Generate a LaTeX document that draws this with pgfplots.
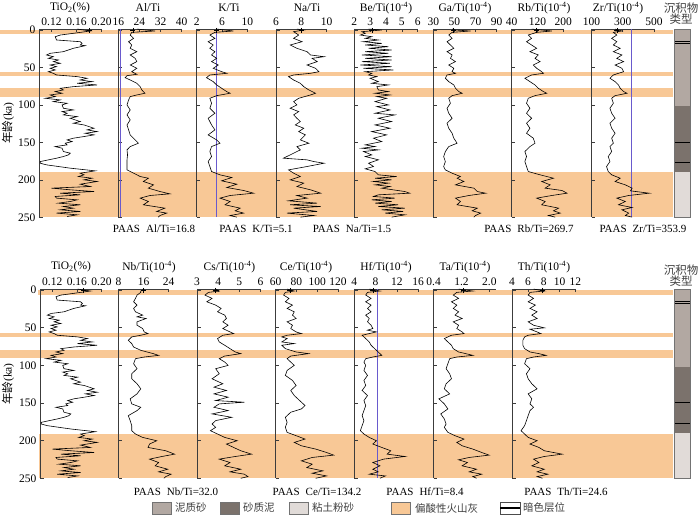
\documentclass[border=0pt]{standalone}
\usepackage{fontspec}
\setmainfont{Liberation Serif}
\newfontfamily\cjk{Noto Sans CJK SC}
\usepackage{pgfplots}
\pgfplotsset{compat=1.18}

\definecolor{band}{RGB}{248,200,150}
\definecolor{paas}{RGB}{105,90,205}
\definecolor{sedA}{RGB}{178,168,162}
\definecolor{sedB}{RGB}{123,114,108}
\definecolor{sedC}{RGB}{225,219,216}
\definecolor{axgray}{RGB}{60,60,60}

\pgfplotsset{
  panel/.style={
    scale only axis, anchor=north west,
    y dir=reverse, ymin=-1.5, ymax=250,
    axis x line*=top, axis y line*=left,
    axis line style={-, axgray, line width=0.7pt},
    tick style={axgray, line width=0.6pt},
    tick align=inside, major tick length=3.5pt,
    ytick={0,50,100,150,200,250}, yticklabels={},
    tick label style={font=\fontsize{11.5}{12}\selectfont},
    clip=false,
  },
  toprow/.style={panel, height=188.4pt},
  botrow/.style={panel, height=189.5pt},
  bandax/.style={scale only axis, anchor=north west, hide axis, clip=false,
    width=673pt, xmin=0, xmax=673, y dir=reverse, ymin=-1.5, ymax=250},
  curve/.style={black, line width=0.6pt},
  plus/.style={only marks, mark=+, mark size=2.5pt, black},
  paasline/.style={paas, line width=1pt},
}

\begin{document}
\begin{tikzpicture}[font=\fontsize{11}{13}\selectfont]
\useasboundingbox (0pt,0pt) rectangle (700pt,-521pt);

% ---------------- bands, top row
\begin{axis}[bandax, at={(0pt,-28.9pt)}, height=188.4pt]
\addplot[fill=band, draw=none] coordinates {(0,-0.5) (673,-0.5) (673,5.5) (0,5.5)};
\addplot[fill=band, draw=none] coordinates {(0,56) (673,56) (673,61) (0,61)};
\addplot[fill=band, draw=none] coordinates {(0,78) (673,78) (673,89) (0,89)};
\addplot[fill=band, draw=none] coordinates {(39,190) (673,190) (673,250) (39,250)};
\end{axis}
% ---------------- bands, bottom row
\begin{axis}[bandax, at={(0pt,-288.9pt)}, height=189.5pt]
\addplot[fill=band, draw=none] coordinates {(38,0.5) (673,0.5) (673,6.5) (38,6.5)};
\addplot[fill=band, draw=none] coordinates {(0,57) (673,57) (673,62) (0,62)};
\addplot[fill=band, draw=none] coordinates {(0,79) (673,79) (673,90) (0,90)};
\addplot[fill=band, draw=none] coordinates {(39,191) (673,191) (673,250) (39,250)};
\end{axis}

% ================= TOP ROW =================
% TiO2
\begin{axis}[toprow, at={(39pt,-28.9pt)}, width=62.5pt, xmin=0.10, xmax=0.20,
  xtick={0.12,0.16,0.20}, xticklabels={0.12,0.16,0.20},
  yticklabels={0,50,100,150,200,250}]
\addplot[curve] coordinates {(0.161,-1.3) (0.182,1.3) (0.155,4.4) (0.134,6.7) (0.126,8.9) (0.128,13.3) (0.166,15.6) (0.169,17.8) (0.166,20) (0.174,20.9) (0.155,24.4) (0.139,28.9) (0.118,31.1) (0.112,33.3) (0.123,35.6) (0.115,37.8) (0.131,40) (0.123,42.2) (0.134,44.4) (0.118,46.7) (0.128,48.9) (0.118,51.1) (0.126,53.3) (0.115,55.6) (0.123,57.8) (0.128,60) (0.161,62.2) (0.177,64.4) (0.166,66.7) (0.185,68.9) (0.161,71.1) (0.193,73.3) (0.155,75.6) (0.134,77.8) (0.139,80) (0.126,82.2) (0.137,84.4) (0.118,86.7) (0.126,88.9) (0.110,91.1) (0.134,93.3) (0.123,95.6) (0.145,97.8) (0.137,100) (0.139,104.4) (0.155,106.7) (0.137,108.9) (0.145,111.1) (0.139,113.3) (0.161,115.6) (0.150,117.8) (0.166,122.2) (0.155,124.4) (0.172,126.7) (0.188,131.1) (0.177,133.3) (0.193,135.6) (0.174,137.8) (0.188,140) (0.172,142.2) (0.155,144.4) (0.145,146.7) (0.153,148.9) (0.142,151.1) (0.145,153.3) (0.126,155.6) (0.137,157.8) (0.139,162.2) (0.150,164.4) (0.147,166.7) (0.139,168.9) (0.128,171.1) (0.102,175.6) (0.102,177.8) (0.112,180) (0.150,184.4) (0.190,188) (0.166,191.1) (0.172,193.3) (0.163,195.6) (0.185,197.8) (0.172,200) (0.193,202.2) (0.166,205.8) (0.182,208.9) (0.120,211.1) (0.150,213.3) (0.188,215.6) (0.134,217.8) (0.166,220) (0.126,222.2) (0.128,224.4) (0.161,226.7) (0.150,228.9) (0.131,231.1) (0.166,233.3) (0.139,235.6) (0.155,237.8) (0.134,240) (0.166,242.2) (0.128,244.4) (0.161,246.7) (0.145,248.9)};
\addplot[plus] coordinates {(0.181,0.5)};
\end{axis}

% Al/Ti
\begin{axis}[toprow, at={(118.3pt,-28.9pt)}, width=63.4pt, xmin=16, xmax=40,
  xtick={16,24,32,40}, xticklabels={16,24,32,40}]
\addplot[paasline] coordinates {(16.8,-1.5) (16.8,250)};
\addplot[curve] coordinates {(23,-1.3) (29.9,1.3) (21.1,3.1) (20.5,6.7) (21.8,11.1) (19.9,15.6) (21.1,20) (20.5,24.4) (23,28.9) (20.5,33.3) (22.4,37.8) (23,42.2) (20.5,46.7) (23,51.1) (21.1,55.6) (23,59.1) (19.3,60.9) (18.6,63.6) (20.5,66.7) (23,71.1) (24.3,75.6) (24.9,80) (26.1,84.4) (23,86.7) (20.5,88.9) (19.9,93.3) (19.3,100) (20.5,106.7) (19.3,113.3) (20.5,120) (19.3,126.7) (19.9,133.3) (20.5,140) (22.4,146.7) (23.6,151.1) (20.5,155.6) (19.3,160) (19.5,166.7) (19.3,173.3) (19.3,180) (19.3,186.7) (21.8,191.1) (24.3,195.6) (27.4,197.8) (25.5,202.2) (29.3,206.7) (27.4,211.1) (31.8,215.6) (35.5,218.7) (28,220.9) (24.3,224.4) (27.4,228.9) (25.5,233.3) (33.6,237.8) (30.5,242.2) (34.3,244.4) (31.8,247.6) (31.1,249.8)};
\addplot[plus] coordinates {(21.5,0.5)};
\end{axis}

% K/Ti
\begin{axis}[toprow, at={(196.7pt,-28.9pt)}, width=50.6pt, xmin=2, xmax=10,
  xtick={2,6,10}, xticklabels={2,6,10}]
\addplot[paasline] coordinates {(5.1,-1.5) (5.1,250)};
\addplot[curve] coordinates {(5.15,-1.3) (7.81,1.3) (4.88,3.1) (4.08,6.7) (4.88,11.1) (3.81,15.6) (4.61,20) (4.08,24.4) (4.88,28.9) (4.35,33.3) (5.15,37.8) (4.35,42.2) (5.41,46.7) (4.61,51.1) (5.95,55.6) (6.75,57.8) (4.08,60) (3.55,63.6) (4.61,68.9) (5.15,73.3) (5.95,77.8) (6.75,82.2) (7.28,84.4) (5.15,87.6) (4.08,91.1) (4.35,97.8) (4.08,104.4) (4.88,111.1) (3.81,117.8) (4.35,126.7) (4.88,133.3) (3.81,140) (5.15,146.7) (5.68,151.1) (4.35,155.6) (4.08,162.2) (4.35,168.9) (3.81,175.6) (4.08,182.2) (4.35,188.9) (5.68,193.3) (7.55,196.9) (5.95,201.3) (8.35,205.8) (6.75,210.2) (9.41,214.2) (11.0,217.8) (7.28,220.9) (5.68,224.4) (7.28,228.9) (6.48,233.3) (8.88,237.8) (8.08,241.3) (9.41,244.4) (7.28,247.6) (8.35,249.8)};
\addplot[plus] coordinates {(5.1,0.5)};
\end{axis}

% Na/Ti
\begin{axis}[toprow, at={(276pt,-28.9pt)}, width=50.7pt, xmin=6, xmax=10,
  xtick={6,8,10}, xticklabels={6,8,10}]
\addplot[curve] coordinates {(7.65,-1.3) (8.19,0) (7.39,2.2) (7.79,6.7) (7.39,11.1) (8.05,15.6) (7.12,20) (7.65,24.4) (8.45,28.9) (8.72,33.3) (9.79,35.6) (8.85,37.8) (9.25,42.2) (8.45,46.7) (9.12,51.1) (9.39,55.6) (8.72,57.8) (7.39,60) (6.99,62.2) (7.39,66.7) (7.92,71.1) (8.19,75.6) (8.59,80) (9.12,84.4) (8.72,86.7) (7.79,91.1) (7.39,95.6) (7.65,100) (7.12,104.4) (7.79,108.9) (7.39,113.3) (7.65,117.8) (7.92,122.2) (7.52,126.7) (8.19,131.1) (7.79,135.6) (8.32,140) (7.92,146.7) (8.59,151.1) (7.65,155.6) (7.92,160) (7.39,164.4) (6.59,171.1) (8.45,173.3) (8.99,175.6) (9.79,177.8) (8.45,182.2) (6.99,186.7) (7.39,191.1) (7.92,195.6) (7.12,200) (8.19,204.4) (7.65,208.9) (8.72,213.3) (9.52,217.8) (7.65,220.9) (8.45,224.4) (6.99,228) (9.25,231.1) (7.12,233.3) (9.52,235.6) (7.39,237.8) (9.25,242.2) (6.85,244.4) (8.99,247.6) (7.92,249.8)};
\addplot[plus] coordinates {(8.0,0.5)};
\end{axis}

% Be/Ti
\begin{axis}[toprow, at={(354.3pt,-28.9pt)}, width=63.4pt, xmin=2, xmax=6,
  xtick={2,3,4,5,6}, xticklabels={2,3,4,5,6}]
\addplot[curve] coordinates {(2.90,-1.3) (3.73,0) (2.48,2.2) (2.69,4.4) (2.38,6.7) (3.10,8.9) (2.69,11.1) (3.52,13.3) (2.58,15.6) (3.73,17.8) (2.69,20) (4.15,22.2) (2.90,24.4) (4.35,26.7) (2.69,28.9) (4.15,31.1) (2.48,33.3) (4.35,35.6) (2.69,37.8) (4.35,40) (2.48,42.2) (4.25,44.4) (2.38,46.7) (4.35,48.9) (2.58,51.1) (4.46,53.3) (2.69,55.6) (3.10,57.8) (2.90,60) (3.42,62.2) (3.0,64.4) (3.52,68.9) (3.10,71.1) (4.15,73.3) (3.42,75.6) (3.52,80) (4.15,82.2) (3.31,84.4) (4.25,86.7) (3.42,88.9) (4.04,91.1) (3.31,95.6) (4.15,100) (3.42,102.2) (4.25,106.7) (3.31,111.1) (4.56,113.3) (3.52,117.8) (4.35,122.2) (3.31,126.7) (4.25,131.1) (3.10,135.6) (4.04,140) (3.21,144.4) (3.73,148.9) (2.69,153.3) (3.31,155.6) (2.48,157.8) (3.52,160) (2.58,162.2) (3.10,166.7) (2.69,168.9) (3.52,173.3) (2.90,177.8) (3.21,182.2) (2.69,185.3) (3.31,188.9) (3.52,193.3) (4.67,195.6) (3.31,197.8) (4.35,200) (3.21,202.2) (4.15,204.4) (3.31,206.7) (4.25,208.9) (3.73,211.1) (5.19,215.6) (5.50,217.8) (3.52,220) (3.21,222.2) (4.56,224.4) (3.10,226.7) (4.35,228.9) (3.31,231.1) (4.77,233.3) (3.52,235.6) (5.19,237.8) (3.73,240) (5.08,242.2) (3.94,244.4) (5.19,246.7) (4.35,249.8)};
\addplot[plus] coordinates {(3.1,0.5)};
\end{axis}

% Ga/Ti
\begin{axis}[toprow, at={(433.3pt,-28.9pt)}, width=63.4pt, xmin=30, xmax=90,
  xtick={30,50,70,90}, xticklabels={30,50,70,90}]
\addplot[curve] coordinates {(47.8,-1.3) (51.0,0) (65.2,1.3) (47.8,3.1) (44.6,6.7) (47.8,11.1) (43.0,15.6) (46.2,20) (49.4,24.4) (43.0,28.9) (47.8,33.3) (46.2,37.8) (51.0,42.2) (44.6,46.7) (49.4,51.1) (47.8,55.6) (51.0,57.8) (43.0,60) (41.4,64.4) (44.6,68.9) (49.4,73.3) (51.0,77.8) (54.1,82.2) (57.3,84.4) (47.8,87.6) (44.6,91.1) (46.2,97.8) (43.0,104.4) (44.6,111.1) (47.8,117.8) (43.0,124.4) (44.6,131.1) (47.8,137.8) (49.4,144.4) (52.5,151.1) (44.6,155.6) (41.4,162.2) (39.8,168.9) (41.4,175.6) (39.8,182.2) (41.4,186.7) (47.8,191.1) (55.7,195.6) (52.5,197.8) (58.9,202.2) (51.0,206.7) (68.4,211.1) (71.6,215.6) (79.5,217.8) (63.7,220.9) (51.0,224.4) (55.7,228.9) (52.5,233.3) (71.6,237.8) (66.8,241.3) (74.8,244.4) (70.0,247.6) (68.4,249.8)};
\addplot[plus] coordinates {(49,0.5)};
\end{axis}

% Rb/Ti
\begin{axis}[toprow, at={(511.7pt,-28.9pt)}, width=51.6pt, xmin=40, xmax=200,
  xtick={40,120,200}, xticklabels={40,120,200}]
\addplot[curve] coordinates {(101.7,-1.3) (164.5,1.3) (117.4,3.1) (91.3,6.7) (101.7,11.1) (86.0,15.6) (101.7,20) (117.4,24.4) (96.5,28.9) (122.6,33.3) (112.2,37.8) (127.9,42.2) (106.9,46.7) (117.4,51.1) (133.1,55.6) (138.3,57.8) (101.7,60) (80.8,64.4) (96.5,68.9) (112.2,73.3) (122.6,77.8) (138.3,82.2) (148.8,84.4) (112.2,87.6) (91.3,91.1) (86.0,97.8) (96.5,104.4) (86.0,111.1) (101.7,117.8) (86.0,124.4) (96.5,131.1) (86.0,137.8) (106.9,144.4) (112.2,151.1) (96.5,155.6) (80.8,162.2) (86.0,168.9) (80.8,175.6) (86.0,182.2) (91.3,188.9) (127.9,193.3) (169.7,197.8) (133.1,202.2) (159.2,206.7) (143.6,211.1) (195.9,214.2) (211.5,217.8) (164.5,220.9) (117.4,224.4) (143.6,228.9) (133.1,233.3) (185.4,237.8) (169.7,241.3) (190.6,244.4) (154.0,247.6) (174.9,249.8)};
\addplot[plus] coordinates {(117,0.5)};
\end{axis}

% Zr/Ti
\begin{axis}[toprow, at={(591.5pt,-28.9pt)}, width=62.5pt, xmin=100, xmax=500,
  xtick={100,300,500}, xticklabels={100,300,500}]
\addplot[paasline] coordinates {(353.9,-1.5) (353.9,250)};
\addplot[curve] coordinates {(250.8,-1.3) (294.6,1.3) (239.9,3.1) (261.8,6.7) (229.0,11.1) (261.8,15.6) (239.9,20) (283.6,24.4) (239.9,28.9) (294.6,33.3) (261.8,37.8) (305.5,42.2) (250.8,46.7) (294.6,51.1) (305.5,55.6) (239.9,60) (218.0,64.4) (250.8,68.9) (272.7,73.3) (283.6,77.8) (305.5,82.2) (327.3,84.4) (250.8,87.6) (229.0,91.1) (239.9,97.8) (218.0,104.4) (229.0,111.1) (250.8,117.8) (218.0,124.4) (229.0,131.1) (250.8,137.8) (229.0,144.4) (239.9,151.1) (218.0,155.6) (229.0,162.2) (207.1,168.9) (218.0,175.6) (196.2,182.2) (207.1,188.9) (229.0,193.3) (283.6,197.8) (250.8,202.2) (316.4,206.7) (360.1,211.1) (349.2,214.7) (469.4,217.8) (338.3,220.9) (261.8,224.4) (316.4,228.9) (272.7,233.3) (360.1,236.9) (294.6,240) (338.3,244.4) (316.4,247.6) (360.1,249.8)};
\addplot[plus] coordinates {(262,0.5)};
\end{axis}

% sediment column, top
\begin{axis}[scale only axis, anchor=north west, at={(674pt,-28.9pt)}, width=16pt, height=188.4pt,
  xmin=0, xmax=1, y dir=reverse, ymin=-1.5, ymax=250, xtick=\empty, ytick=\empty,
  axis on top, axis line style={black!55, line width=0.7pt}]
\addplot[fill=sedA, draw=none] coordinates {(0,-1.5) (1,-1.5) (1,101.5) (0,101.5)};
\addplot[fill=sedB, draw=none] coordinates {(0,101.5) (1,101.5) (1,190) (0,190)};
\addplot[fill=sedC, draw=none] coordinates {(0,190) (1,190) (1,250) (0,250)};
\addplot[black, line width=1pt] coordinates {(0,15.8) (1,15.8)};
\addplot[black, line width=1pt] coordinates {(0,18.3) (1,18.3)};
\addplot[black, line width=1pt] coordinates {(0,150) (1,150)};
\addplot[black, line width=1pt] coordinates {(0,177) (1,177)};
\end{axis}

% ================= BOTTOM ROW =================
% TiO2
\begin{axis}[botrow, at={(40pt,-288.9pt)}, width=61.5pt, xmin=0.10, xmax=0.20,
  xtick={0.12,0.16,0.20}, xticklabels={0.12,0.16,0.20},
  yticklabels={0,50,100,150,200,250}]
\addplot[curve] coordinates {(0.161,-1.3) (0.182,1.3) (0.155,4.4) (0.134,6.7) (0.126,8.9) (0.128,13.3) (0.166,15.6) (0.169,17.8) (0.166,20) (0.174,20.9) (0.155,24.4) (0.139,28.9) (0.118,31.1) (0.112,33.3) (0.123,35.6) (0.115,37.8) (0.131,40) (0.123,42.2) (0.134,44.4) (0.118,46.7) (0.128,48.9) (0.118,51.1) (0.126,53.3) (0.115,55.6) (0.123,57.8) (0.128,60) (0.161,62.2) (0.177,64.4) (0.166,66.7) (0.185,68.9) (0.161,71.1) (0.193,73.3) (0.155,75.6) (0.134,77.8) (0.139,80) (0.126,82.2) (0.137,84.4) (0.118,86.7) (0.126,88.9) (0.110,91.1) (0.134,93.3) (0.123,95.6) (0.145,97.8) (0.137,100) (0.139,104.4) (0.155,106.7) (0.137,108.9) (0.145,111.1) (0.139,113.3) (0.161,115.6) (0.150,117.8) (0.166,122.2) (0.155,124.4) (0.172,126.7) (0.188,131.1) (0.177,133.3) (0.193,135.6) (0.174,137.8) (0.188,140) (0.172,142.2) (0.155,144.4) (0.145,146.7) (0.153,148.9) (0.142,151.1) (0.145,153.3) (0.126,155.6) (0.137,157.8) (0.139,162.2) (0.150,164.4) (0.147,166.7) (0.139,168.9) (0.128,171.1) (0.102,175.6) (0.102,177.8) (0.112,180) (0.150,184.4) (0.190,188) (0.166,191.1) (0.172,193.3) (0.163,195.6) (0.185,197.8) (0.172,200) (0.193,202.2) (0.166,205.8) (0.182,208.9) (0.120,211.1) (0.150,213.3) (0.188,215.6) (0.134,217.8) (0.166,220) (0.126,222.2) (0.128,224.4) (0.161,226.7) (0.150,228.9) (0.131,231.1) (0.166,233.3) (0.139,235.6) (0.155,237.8) (0.134,240) (0.166,242.2) (0.128,244.4) (0.161,246.7) (0.145,248.9)};
\addplot[plus] coordinates {(0.171,0.5)};
\end{axis}

% Nb/Ti
\begin{axis}[botrow, at={(118.6pt,-288.9pt)}, width=50pt, xmin=8, xmax=24,
  xtick={8,16,24}, xticklabels={8,16,24}]
\addplot[curve] coordinates {(16.2,-1.3) (15.1,1.3) (15.1,3.1) (13.9,6.7) (13.4,11.1) (12.8,15.6) (13.9,20) (12.8,24.4) (13.4,28.9) (15.7,33.3) (13.9,35.6) (16.8,37.8) (13.9,42.2) (13.9,46.7) (15.7,51.1) (16.2,55.6) (17.4,57.8) (15.1,60) (12.2,62.2) (11.1,66.7) (12.2,71.1) (12.8,75.6) (15.1,80) (19.1,84.4) (20.8,86.7) (16.2,88.9) (13.4,91.1) (12.8,97.8) (13.9,104.4) (12.2,111.1) (12.2,117.8) (13.9,124.4) (15.1,131.1) (13.9,137.8) (11.7,144.4) (12.2,151.1) (15.1,155.6) (13.9,160) (11.1,166.7) (11.7,173.3) (12.2,180) (12.2,186.7) (13.4,191.1) (15.7,195.6) (20.2,200) (17.9,204.4) (17.4,208.9) (23.1,213.3) (25.9,217.8) (21.9,220.9) (17.9,224.4) (20.8,228.9) (19.7,233.3) (23.7,237.8) (20.8,241.3) (24.8,244.4) (23.1,247.6) (22.5,249.8)};
\addplot[plus] coordinates {(16,0.5)};
\end{axis}

% Cs/Ti
\begin{axis}[botrow, at={(197.1pt,-288.9pt)}, width=63.3pt, xmin=3, xmax=6,
  xtick={3,4,5,6}, xticklabels={3,4,5,6}]
\addplot[curve] coordinates {(3.88,-1.3) (4.05,1.3) (3.54,3.1) (3.37,6.7) (3.71,11.1) (3.46,15.6) (3.88,20) (4.14,24.4) (3.97,28.9) (4.31,33.3) (4.39,37.8) (4.22,42.2) (4.47,46.7) (4.22,51.1) (4.56,55.6) (4.73,57.8) (4.22,60) (3.97,64.4) (4.05,68.9) (4.31,73.3) (4.56,77.8) (4.81,82.2) (5.07,84.4) (4.31,87.6) (4.05,91.1) (4.31,95.6) (4.47,100) (3.88,104.4) (4.05,111.1) (3.71,117.8) (4.22,124.4) (3.80,128.9) (4.39,133.3) (3.80,137.8) (4.47,142.2) (3.88,146.7) (5.24,148.9) (4.05,151.1) (3.80,155.6) (4.47,160) (3.71,164.4) (4.64,168.9) (3.88,173.3) (3.71,177.8) (3.88,182.2) (3.63,186.7) (3.97,191.1) (4.31,195.6) (4.90,200) (4.39,204.4) (4.73,208.9) (5.07,213.3) (5.58,217.8) (4.81,220.9) (4.05,224.4) (4.56,228.9) (4.31,233.3) (5.07,237.8) (4.56,241.3) (5.24,244.4) (5.41,247.6) (5.07,249.8)};
\addplot[plus] coordinates {(3.86,0.5)};
\end{axis}

% Ce/Ti
\begin{axis}[botrow, at={(275.7pt,-288.9pt)}, width=62.2pt, xmin=60, xmax=120,
  xtick={60,80,100,120}, xticklabels={60,80,100,120}]
\addplot[curve] coordinates {(71.0,-1.3) (77.9,1.3) (69.3,3.1) (67.6,6.7) (72.8,11.1) (69.3,15.6) (76.2,20) (71.0,24.4) (77.9,28.9) (76.2,33.3) (79.7,37.8) (71.0,42.2) (76.2,46.7) (74.5,51.1) (79.7,55.6) (84.8,57.8) (71.0,60) (65.9,62.2) (71.0,64.4) (65.9,68.9) (77.9,71.1) (65.9,73.3) (69.3,77.8) (79.7,82.2) (91.7,84.4) (74.5,87.6) (71.0,91.1) (74.5,95.6) (77.9,100) (71.0,106.7) (69.3,113.3) (76.2,120) (79.7,126.7) (74.5,133.3) (77.9,140) (83.1,146.7) (88.3,153.3) (84.8,157.8) (74.5,162.2) (69.3,168.9) (71.0,175.6) (69.3,182.2) (71.0,188.9) (79.7,193.3) (88.3,197.8) (77.9,202.2) (84.8,206.7) (98.6,211.1) (109.0,215.6) (115.9,219.1) (95.2,222.2) (84.8,226.7) (95.2,231.1) (90.0,235.6) (105.5,240) (95.2,243.1) (109.0,246.7) (98.6,249.8)};
\addplot[plus] coordinates {(73.5,0.5)};
\end{axis}

% Hf/Ti
\begin{axis}[botrow, at={(354.3pt,-288.9pt)}, width=63.9pt, xmin=4, xmax=16,
  xtick={4,8,12,16}, xticklabels={4,8,12,16}]
\addplot[paasline] coordinates {(8.4,-1.5) (8.4,250)};
\addplot[curve] coordinates {(6.81,-1.3) (8.82,1.3) (6.48,3.1) (6.14,6.7) (7.15,11.1) (6.14,15.6) (7.15,20) (6.48,24.4) (7.15,28.9) (6.14,33.3) (6.81,37.8) (6.48,42.2) (7.15,46.7) (7.48,51.1) (6.48,53.3) (8.15,55.6) (6.81,57.8) (5.47,60) (6.14,64.4) (6.81,68.9) (7.15,73.3) (7.82,77.8) (8.49,82.2) (9.16,86.7) (7.48,88.9) (6.14,91.1) (5.81,95.6) (6.14,100) (5.81,106.7) (6.48,113.3) (5.81,120) (6.14,126.7) (5.47,133.3) (6.48,140) (5.81,146.7) (6.14,153.3) (5.81,160) (5.47,166.7) (5.81,173.3) (5.47,180) (5.14,186.7) (5.81,191.1) (6.81,195.6) (8.15,200) (7.48,204.4) (9.16,208.9) (10.84,213.3) (10.17,217.8) (13.52,220.9) (9.50,224.4) (7.48,228.9) (8.82,233.3) (7.48,237.8) (8.49,241.3) (6.81,244.4) (9.83,246.7) (8.82,249.8)};
\addplot[plus] coordinates {(7.5,0.5)};
\end{axis}

% Ta/Ti
\begin{axis}[botrow, at={(433.6pt,-288.9pt)}, width=62.8pt, xmin=0.4, xmax=2.2,
  xtick={0.4,1.2,2.0}, xticklabels={0.4,1.2,2.0}]
\addplot[curve] coordinates {(1.116,-1.3) (1.525,1.3) (1.065,3.1) (0.963,6.7) (1.116,11.1) (0.912,15.6) (1.065,20) (0.963,24.4) (1.116,28.9) (1.014,33.3) (1.218,37.8) (0.963,42.2) (1.116,46.7) (1.065,51.1) (1.218,55.6) (1.270,57.8) (0.912,60) (0.707,64.4) (0.809,68.9) (0.912,73.3) (0.963,77.8) (1.116,82.2) (1.320,84.4) (1.525,86.7) (1.065,88.9) (0.860,91.1) (0.809,97.8) (0.758,104.4) (0.860,111.1) (0.912,117.8) (0.758,124.4) (0.707,131.1) (0.860,137.8) (0.553,144.4) (0.707,151.1) (0.809,157.8) (0.605,164.4) (0.707,171.1) (0.758,177.8) (0.707,182.2) (0.809,188.9) (1.014,193.3) (1.270,197.8) (1.065,202.2) (1.218,206.7) (1.525,211.1) (1.780,215.6) (1.990,219.1) (1.420,222.2) (1.116,225.3) (1.370,228.9) (1.218,233.3) (1.630,237.8) (1.420,241.3) (1.780,244.4) (1.525,247.6) (1.630,249.8)};
\addplot[plus] coordinates {(1.26,0.5)};
\end{axis}

% Th/Ti
\begin{axis}[botrow, at={(512.1pt,-288.9pt)}, width=63.3pt, xmin=4, xmax=12,
  xtick={4,6,8,10,12}, xticklabels={4,6,8,10,12}]
\addplot[curve] coordinates {(6.71,-1.3) (8.07,1.3) (6.26,3.1) (6.03,6.7) (6.71,11.1) (6.03,15.6) (6.94,20) (6.26,24.4) (7.16,28.9) (6.49,33.3) (7.16,37.8) (6.03,42.2) (6.71,46.7) (8.07,50.2) (6.26,52) (7.16,55.6) (7.62,57.8) (6.03,60) (5.58,62.2) (5.36,66.7) (5.36,73.3) (5.58,77.8) (6.26,82.2) (7.39,84.4) (8.29,86.7) (6.71,88.9) (5.81,91.1) (5.58,97.8) (6.26,104.4) (5.81,111.1) (6.03,117.8) (6.49,124.4) (7.16,131.1) (6.03,137.8) (6.49,144.4) (6.26,151.1) (6.71,155.6) (6.26,160) (6.03,166.7) (5.81,173.3) (5.58,180) (5.13,186.7) (5.58,191.1) (6.03,195.6) (7.16,200) (6.26,204.4) (7.39,208.9) (8.07,213.3) (10.33,217.8) (8.07,220.9) (6.71,224.4) (7.39,228.9) (6.49,233.3) (8.07,237.8) (7.16,241.3) (8.52,244.4) (7.16,247.6) (7.84,249.8)};
\addplot[plus] coordinates {(7.8,0.5)};
\end{axis}

% sediment column, bottom
\begin{axis}[scale only axis, anchor=north west, at={(674pt,-288.9pt)}, width=16pt, height=189.5pt,
  xmin=0, xmax=1, y dir=reverse, ymin=-1.5, ymax=250, xtick=\empty, ytick=\empty,
  axis on top, axis line style={black!55, line width=0.7pt}]
\addplot[fill=sedA, draw=none] coordinates {(0,-1.5) (1,-1.5) (1,101.5) (0,101.5)};
\addplot[fill=sedB, draw=none] coordinates {(0,101.5) (1,101.5) (1,190) (0,190)};
\addplot[fill=sedC, draw=none] coordinates {(0,190) (1,190) (1,250) (0,250)};
\addplot[black, line width=1pt] coordinates {(0,15.3) (1,15.3)};
\addplot[black, line width=1pt] coordinates {(0,18.5) (1,18.5)};
\addplot[black, line width=1pt] coordinates {(0,149.6) (1,149.6)};
\addplot[black, line width=1pt] coordinates {(0,176.6) (1,176.6)};
\end{axis}

% ---------------- titles
\begin{scope}[every node/.style={font=\fontsize{11.5}{13}\selectfont, inner sep=0pt}]
\node at (70pt,-8pt) {TiO\textsubscript{2}(\%)};
\node at (148pt,-8pt) {Al/Ti};
\node at (229pt,-8pt) {K/Ti};
\node at (307pt,-8pt) {Na/Ti};
\node at (386pt,-8pt) {Be/Ti(10\textsuperscript{-4})};
\node at (465pt,-8pt) {Ga/Ti(10\textsuperscript{-4})};
\node at (544pt,-8pt) {Rb/Ti(10\textsuperscript{-4})};
\node at (618pt,-8pt) {Zr/Ti(10\textsuperscript{-4})};
\node[text=black!75] at (681pt,-8pt) {\cjk 沉积物};
\node[text=black!75] at (681pt,-19pt) {\cjk 类型};

\node at (71pt,-267pt) {TiO\textsubscript{2}(\%)};
\node at (149pt,-267pt) {Nb/Ti(10\textsuperscript{-4})};
\node at (229.5pt,-267pt) {Cs/Ti(10\textsuperscript{-4})};
\node at (306pt,-267pt) {Ce/Ti(10\textsuperscript{-4})};
\node at (386pt,-267pt) {Hf/Ti(10\textsuperscript{-4})};
\node at (465pt,-267pt) {Ta/Ti(10\textsuperscript{-4})};
\node at (544pt,-267pt) {Th/Ti(10\textsuperscript{-4})};
\node[text=black!75] at (681pt,-270pt) {\cjk 沉积物};
\node[text=black!75] at (681pt,-281pt) {\cjk 类型};

\node[rotate=90] at (8pt,-123pt) {{\cjk 年龄}(ka)};
\node[rotate=90] at (8pt,-384pt) {{\cjk 年龄}(ka)};
\end{scope}

% ---------------- PAAS labels
\begin{scope}[every node/.style={font=\fontsize{11}{13}\selectfont, inner sep=0pt}]
\node at (154pt,-229pt) {PAAS\hspace{6pt}Al/Ti=16.8};
\node at (256pt,-229pt) {PAAS\hspace{6pt}K/Ti=5.1};
\node at (352pt,-229pt) {PAAS\hspace{6pt}Na/Ti=1.5};
\node at (529pt,-229pt) {PAAS\hspace{6pt}Rb/Ti=269.7};
\node at (643pt,-229pt) {PAAS\hspace{6pt}Zr/Ti=353.9};
\node at (176pt,-492pt) {PAAS\hspace{6pt}Nb/Ti=32.0};
\node at (317pt,-492pt) {PAAS\hspace{6pt}Ce/Ti=134.2};
\node at (425pt,-492pt) {PAAS\hspace{6pt}Hf/Ti=8.4};
\node at (566pt,-492pt) {PAAS\hspace{6pt}Th/Ti=24.6};
\end{scope}

% ---------------- legend
\begin{scope}[every node/.style={font=\cjk\fontsize{10.5}{12}\selectfont, inner sep=0pt, anchor=west, text=black!75}]
\draw[black!55, fill=sedA] (152pt,-502pt) rectangle (171pt,-514pt);
\node at (175pt,-508pt) {泥质砂};
\draw[black!55, fill=sedB] (220pt,-502pt) rectangle (239pt,-514pt);
\node at (243pt,-508pt) {砂质泥};
\draw[black!55, fill=sedC] (289pt,-502pt) rectangle (308pt,-514pt);
\node at (312pt,-508pt) {粘土粉砂};
\draw[black!55, fill=band] (391pt,-502pt) rectangle (410pt,-514pt);
\node at (415pt,-508pt) {偏酸性火山灰};
\draw[black!70, fill=white] (500pt,-502pt) rectangle (520pt,-514pt);
\draw[black, line width=1.2pt] (500pt,-508pt) -- (520pt,-508pt);
\node at (523pt,-508pt) {暗色层位};
\end{scope}
\end{tikzpicture}
\end{document}
